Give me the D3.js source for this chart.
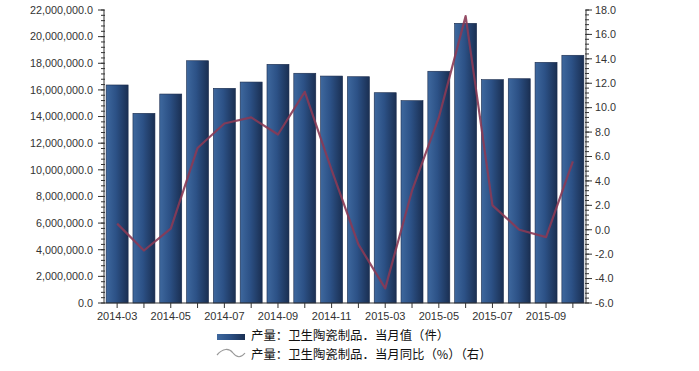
<!DOCTYPE html>
<head>
    <meta charset="utf-8">
    <script src="https://d3js.org/d3.v7.min.js"></script>
</head>
<style>
body { margin: 0; background: #fff; }
svg { display: block; font-family: "Liberation Sans", Arial, sans-serif; }
</style>
<body>
<svg></svg>
<script>
    // data
    var months = ["2014-03","2014-04","2014-05","2014-06","2014-07","2014-08","2014-09","2014-10","2014-11","2014-12",
                  "2015-03","2015-04","2015-05","2015-06","2015-07","2015-08","2015-09","2015-10"];
    var output = [16370000,14240000,15690000,18190000,16120000,16590000,17920000,17250000,17040000,16990000,
                  15790000,15190000,17400000,21000000,16770000,16840000,18070000,18600000];
    var yoy = [0.5,-1.7,0.1,6.7,8.7,9.2,7.8,11.3,4.9,-1.2,
               -4.8,3.2,9.2,17.5,2.0,0.0,-0.6,5.6];
    var leftTicks = d3.range(0, 22000001, 2000000);
    var rightTicks = d3.range(-6, 18.1, 2);
    var legendNames = ["产量：卫生陶瓷制品．当月值（件）", "产量：卫生陶瓷制品．当月同比（%）（右）"];

    var width = 699, height = 371;
    var plotL = 104, plotR = 586, plotT = 10, plotB = 303;

    var svg = d3.select("svg").attr("width", width).attr("height", height);

    var defs = svg.append("defs");
    var grad = defs.append("linearGradient").attr("id", "barGrad")
        .attr("x1", "0%").attr("x2", "100%").attr("y1", "0%").attr("y2", "0%");
    grad.append("stop").attr("offset", "0%").attr("stop-color", "#3e689e");
    grad.append("stop").attr("offset", "45%").attr("stop-color", "#2c5186");
    grad.append("stop").attr("offset", "100%").attr("stop-color", "#1a2f52");

    var x = d3.scaleBand().domain(months).range([plotL, plotR]).paddingInner(0.18).paddingOuter(0.08);
    var y = d3.scaleLinear().domain([0, 22000000]).range([plotB, plotT]);
    var y2 = d3.scaleLinear().domain([-6, 18]).range([plotB, plotT]);

    // bars
    svg.append("g").selectAll("rect")
        .data(output)
        .enter().append("rect")
        .attr("x", function (d, i) { return x(months[i]); })
        .attr("width", x.bandwidth())
        .attr("y", function (d) { return y(d); })
        .attr("height", function (d) { return plotB - y(d); })
        .attr("fill", "url(#barGrad)")
        .attr("stroke", "#17284a")
        .attr("stroke-width", 0.6);

    // line
    var line = d3.line()
        .x(function (d, i) { return x(months[i]) + x.bandwidth() / 2; })
        .y(function (d) { return y2(d); });
    svg.append("path")
        .datum(yoy)
        .attr("d", line)
        .attr("fill", "none")
        .attr("stroke", "#8a3a55")
        .attr("stroke-opacity", 0.9)
        .attr("stroke-width", 2.2)
        .attr("stroke-linejoin", "round");

    // left axis
    var fmtL = d3.format(",.1f");
    var gl = svg.append("g").attr("transform", "translate(" + plotL + ",0)");
    gl.append("line").attr("y1", plotT).attr("y2", plotB).attr("stroke", "#333");
    gl.selectAll(".minor").data(d3.range(0, 22000001, 400000)).enter().append("line")
        .attr("x1", -3).attr("x2", 1).attr("y1", function (d) { return y(d); }).attr("y2", function (d) { return y(d); })
        .attr("stroke", "#333");
    gl.selectAll(".major").data(leftTicks).enter().append("line")
        .attr("x1", -6).attr("x2", 0).attr("y1", function (d) { return y(d); }).attr("y2", function (d) { return y(d); })
        .attr("stroke", "#333");
    gl.selectAll("text").data(leftTicks).enter().append("text")
        .attr("x", -11).attr("y", function (d) { return y(d); }).attr("dy", "0.35em")
        .attr("text-anchor", "end").attr("font-size", "10.8px").attr("fill", "#333")
        .text(function (d) { return fmtL(d); });

    // right axis
    var gr = svg.append("g").attr("transform", "translate(" + plotR + ",0)");
    gr.append("line").attr("y1", plotT).attr("y2", plotB).attr("stroke", "#333");
    gr.selectAll(".minor").data(d3.range(-6, 18.01, 0.4)).enter().append("line")
        .attr("x1", -1).attr("x2", 3).attr("y1", function (d) { return y2(d); }).attr("y2", function (d) { return y2(d); })
        .attr("stroke", "#333");
    gr.selectAll(".major").data(rightTicks).enter().append("line")
        .attr("x1", 0).attr("x2", 6).attr("y1", function (d) { return y2(d); }).attr("y2", function (d) { return y2(d); })
        .attr("stroke", "#333");
    gr.selectAll("text").data(rightTicks).enter().append("text")
        .attr("x", 9).attr("y", function (d) { return y2(d); }).attr("dy", "0.35em")
        .attr("font-size", "10.8px").attr("fill", "#333")
        .text(function (d) { return d.toFixed(1); });

    // x axis
    var gx = svg.append("g").attr("transform", "translate(0," + plotB + ")");
    gx.append("line").attr("x1", plotL).attr("x2", plotR).attr("stroke", "#333");
    gx.selectAll(".tick").data(months).enter().append("line")
        .attr("x1", function (d) { return x(d) + x.bandwidth() / 2; })
        .attr("x2", function (d) { return x(d) + x.bandwidth() / 2; })
        .attr("y1", 0).attr("y2", 5).attr("stroke", "#333");
    gx.selectAll("text").data(months.filter(function (d, i) { return i % 2 === 0; })).enter().append("text")
        .attr("x", function (d) { return x(d) + x.bandwidth() / 2; })
        .attr("y", 17).attr("text-anchor", "middle")
        .attr("font-size", "11px").attr("fill", "#333")
        .text(function (d) { return d; });

    // legend
    var lg = svg.append("g").attr("font-family", "'Noto Sans CJK SC', sans-serif").attr("font-size", "12.4px").attr("fill", "#111");
    lg.append("rect").attr("x", 217).attr("y", 334).attr("width", 28).attr("height", 6).attr("fill", "url(#barGrad)");
    lg.append("path").attr("d", "M217,355 C223,348 229,348 233,353 C237,358 241,358 245,353")
        .attr("fill", "none").attr("stroke", "#999").attr("stroke-width", 1.2);
    lg.selectAll("text").data(legendNames).enter().append("text")
        .attr("x", 251).attr("y", function (d, i) { return 336 + i * 18.5; }).attr("dy", "0.35em")
        .text(function (d) { return d; });
</script>
</body>
